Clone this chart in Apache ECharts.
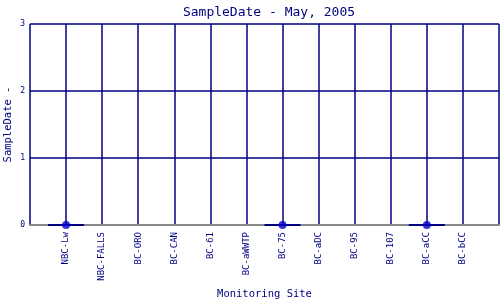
<!DOCTYPE html>
<html><head><meta charset="utf-8">
<script src="https://cdn.jsdelivr.net/npm/echarts@6/dist/echarts.min.js"></script>
<style>html,body{margin:0;padding:0;background:#fff}#c{width:500px;height:300px}</style>
</head><body><div id="c"></div>
<script>
const sites = ['NBC-Lw','NBC-FALLS','BC-ORO','BC-CAN','BC-61','BC-aWWTP','BC-75','BC-aDC','BC-95','BC-107','BC-aCC','BC-bCC'];
const values = [0,null,null,null,null,null,0,null,null,null,0,null];
const yTicks = [0,1,2,3];

const navy = '#000080';
const font = 'DejaVu Sans Mono';
const pts = [];
const segs = [];
values.forEach((v,i)=>{
  if (v !== null) {
    pts.push([i+1, v]);
    segs.push([i+0.5, v],[i+1.5, v],[i+1.5, null]);
  }
});
const chart = echarts.init(document.getElementById('c'));
chart.setOption({
  animation:false,
  title:{text:'SampleDate - May, 2005', left:264, textAlign:'center', top:1,
    textStyle:{fontFamily:font, fontSize:13, fontWeight:'normal', color:navy}},
  grid:{left:30, right:1, top:24, bottom:75, containLabel:false, outerBoundsMode:'none'},
  xAxis:{type:'value', min:0, max:sites.length+1, interval:1,
    name:'Monitoring Site', nameLocation:'middle', nameGap:64, nameMoveOverlap:false,
    nameTextStyle:{fontFamily:font, fontSize:10.5, color:navy},
    axisLine:{show:true, lineStyle:{color:'#888888', width:2}},
    axisTick:{show:false},
    axisLabel:{rotate:90, margin:7, fontFamily:font, fontSize:9, color:navy,
      formatter:(v)=> (v>=1 && v<=sites.length) ? sites[v-1] : ''},
    splitLine:{show:true, lineStyle:{color:navy, width:1.5}}},
  yAxis:{type:'value', min:yTicks[0], max:yTicks[yTicks.length-1], interval:1,
    name:'SampleDate -', nameLocation:'middle', nameGap:16, nameMoveOverlap:false,
    nameTextStyle:{fontFamily:font, fontSize:10.5, color:navy},
    axisLine:{show:false}, axisTick:{show:false},
    axisLabel:{fontFamily:font, fontSize:8, color:navy, margin:5},
    splitLine:{show:true, lineStyle:{color:navy, width:1.5}}},
  series:[
    {type:'line', data:segs, symbol:'none', connectNulls:false,
      lineStyle:{color:navy, width:2}, z:3},
    {type:'scatter', data:pts, symbol:'circle', symbolSize:8,
      itemStyle:{color:'#0000cc'}, z:4}
  ]
});
</script></body></html>
